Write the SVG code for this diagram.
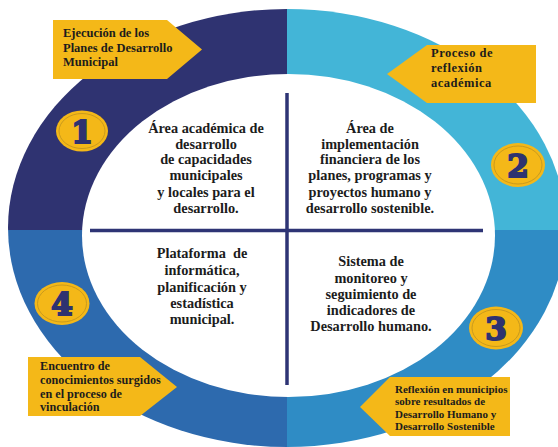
<svg xmlns="http://www.w3.org/2000/svg" width="558" height="447" viewBox="0 0 558 447">
<style>
.t{font-family:"Liberation Serif","Times New Roman",serif;font-weight:bold;fill:#1c1c1c}
.c{font-size:14.3px;text-anchor:middle}
.co{fill:#f4b818}
.badge{fill:#f4b818}
.bring{fill:none;stroke:#c99a1e;stroke-width:1}
.dig{font-family:"DejaVu Serif",serif;font-weight:bold;font-size:31px;fill:#2e3270;stroke:#2e3270;stroke-width:2;text-anchor:middle}
.div{stroke:#2e3475;stroke-width:3.5;fill:none}
</style>
<defs>
<clipPath id="outer"><ellipse cx="287" cy="228" rx="279" ry="219"/></clipPath>
</defs>
<rect width="558" height="447" fill="#ffffff"/>
<g id="ring" clip-path="url(#outer)">
<rect id="q1" x="0" y="0" width="287" height="230" fill="#2f3371"/>
<rect id="q2" x="287" y="0" width="271" height="230" fill="#43b5d7"/>
<rect id="q3" x="287" y="230" width="271" height="217" fill="#2f8cc5"/>
<rect id="q4" x="0" y="230" width="287" height="217" fill="#2d6aae"/>
</g>
<ellipse id="inner" cx="288.5" cy="235.5" rx="206.5" ry="161.5" fill="#ffffff"/>
<g id="connectors">
<line class="div" x1="287" y1="93" x2="287" y2="385"/>
<line class="div" x1="90" y1="230.5" x2="483" y2="230.5"/>
</g>
<g id="area1" class="t c">
<text x="206" y="133">Área académica de</text>
<text x="206" y="148.5">desarrollo</text>
<text x="206" y="164">de capacidades</text>
<text x="206" y="180">municipales</text>
<text x="206" y="196.5">y locales para el</text>
<text x="206" y="212.5">desarrollo.</text>
</g>
<g id="area2" class="t c">
<text x="370" y="133">Área de</text>
<text x="370" y="148.5">implementación</text>
<text x="370" y="164">financiera de los</text>
<text x="370" y="180">planes, programas y</text>
<text x="370" y="196.5">proyectos humano y</text>
<text x="370" y="212.5">desarrollo sostenible.</text>
</g>
<g id="area4" class="t c">
<text x="202" y="258" xml:space="preserve">Plataforma  de</text>
<text x="202" y="275">informática,</text>
<text x="202" y="291.5">planificación y</text>
<text x="202" y="307.5">estadística</text>
<text x="202" y="323.5">municipal.</text>
</g>
<g id="area3" class="t c">
<text x="371" y="266">Sistema de</text>
<text x="371" y="282.5">monitoreo y</text>
<text x="371" y="298.5">seguimiento de</text>
<text x="371" y="314.5">indicadores de</text>
<text x="371" y="331">Desarrollo humano.</text>
</g>
<g id="badge1">
<ellipse class="badge" cx="82" cy="131" rx="26" ry="20.5"/>
<ellipse class="bring" cx="82" cy="131" rx="23" ry="17.5"/>
<text class="dig" x="82" y="142.5">1</text>
</g>
<g id="badge2">
<ellipse class="badge" cx="518" cy="165" rx="27" ry="22"/>
<ellipse class="bring" cx="518" cy="165" rx="24" ry="19"/>
<text class="dig" x="518" y="176.5">2</text>
</g>
<g id="badge3">
<ellipse class="badge" cx="496" cy="328" rx="27" ry="21.5"/>
<ellipse class="bring" cx="496" cy="328" rx="24" ry="18.5"/>
<text class="dig" x="496" y="339.5">3</text>
</g>
<g id="badge4">
<ellipse class="badge" cx="62" cy="303.5" rx="27.5" ry="21.5"/>
<ellipse class="bring" cx="62" cy="303.5" rx="24.5" ry="18.5"/>
<text class="dig" x="62" y="315">4</text>
</g>
<g id="callout1">
<polygon class="co" points="53,20 167,20 202,49.5 167,79 53,79"/>
<g class="t" font-size="12.5">
<text x="63" y="37">Ejecución de los</text>
<text x="63" y="51.5">Planes de Desarrollo</text>
<text x="63" y="65.5">Municipal</text>
</g>
</g>
<g id="callout2">
<polygon class="co" points="536,45 427,45 387,74 427,103 536,103"/>
<g class="t" font-size="12.5" letter-spacing="0.5">
<text x="431" y="57">Proceso de</text>
<text x="431" y="72">reflexión</text>
<text x="431" y="87">académica</text>
</g>
</g>
<g id="callout3">
<polygon class="co" points="510,377 390,377 360,407 390,436 510,436"/>
<g class="t" font-size="11">
<text x="395" y="393">Reflexión en municipios</text>
<text x="395" y="405">sobre resultados de</text>
<text x="395" y="417.5">Desarrollo Humano y</text>
<text x="395" y="429.5">Desarrollo Sostenible</text>
</g>
</g>
<g id="callout4">
<polygon class="co" points="28,357 140,357 177,387 140,416 28,416"/>
<g class="t" font-size="12.2">
<text x="40" y="370">Encuentro de</text>
<text x="40" y="384">conocimientos surgidos</text>
<text x="40" y="397.5">en el proceso de</text>
<text x="40" y="411">vinculación</text>
</g>
</g>
</svg>
